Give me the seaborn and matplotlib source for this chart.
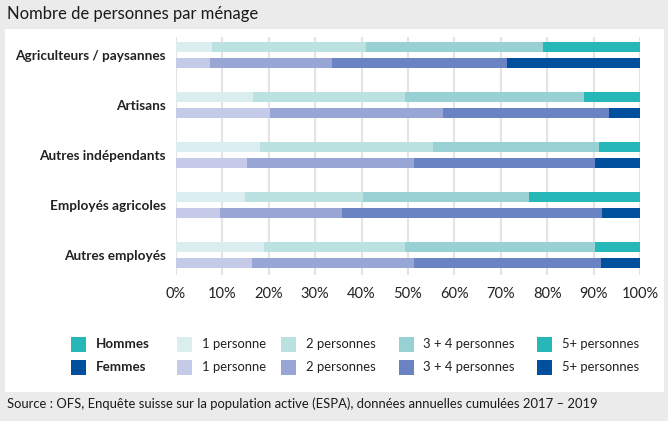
import pandas as pd
import matplotlib.pyplot as plt
import seaborn as sns
from matplotlib.patches import Rectangle

# Data (share of each household size, %)
categories = ['Agriculteurs / paysannes', 'Artisans', 'Autres indépendants',
              'Employés agricoles', 'Autres employés']
sizes = ['1 personne', '2 personnes', '3 + 4 personnes', '5+ personnes']

hommes_1 = [7.7, 16.5, 18.0, 14.9, 19.0]
hommes_2 = [33.3, 32.9, 37.4, 25.3, 30.4]
hommes_34 = [38.2, 38.6, 35.8, 35.9, 41.0]
hommes_5 = [20.8, 12.0, 8.8, 23.9, 9.6]

femmes_1 = [7.3, 20.2, 15.4, 9.5, 16.4]
femmes_2 = [26.3, 37.3, 35.9, 26.3, 34.9]
femmes_34 = [37.8, 35.9, 39.1, 56.1, 40.3]
femmes_5 = [28.6, 6.6, 9.6, 8.1, 8.4]

hommes_colors = ['#daeeef', '#bce1e1', '#97d1d4', '#26b7b9']
femmes_colors = ['#c6cae9', '#98a6d6', '#6a84c3', '#00509d']

sexes = ['Hommes', 'Femmes']

# Build long table with cumulative values for stacking
rows = []
for sex, segs in [('Hommes', [hommes_1, hommes_2, hommes_34, hommes_5]),
                  ('Femmes', [femmes_1, femmes_2, femmes_34, femmes_5])]:
    for i, cat in enumerate(categories):
        cum = 0
        for j, size in enumerate(sizes):
            cum += segs[j][i]
            rows.append({'cat': cat, 'sex': sex, 'size': size, 'cum': cum})
df = pd.DataFrame(rows)

sns.set_theme(style='white')
plt.rcParams['font.family'] = ['Lato', 'DejaVu Sans']

W, H = 668, 421
fig = plt.figure(figsize=(W / 100, H / 100), dpi=100)
fig.patch.set_facecolor('#ebebeb')


def fx(x):
    return x / W


def fy(y):
    return 1 - y / H


# White panel behind the chart
fig.patches.append(Rectangle((fx(5), fy(392)), fx(659), 363 / H,
                             transform=fig.transFigure, facecolor='white',
                             edgecolor='none', zorder=-5))

ax = fig.add_axes([fx(176), fy(275), fx(464), 238 / H])
ax.set_facecolor('none')

# Draw stacks from the largest cumulative value down so each layer shows
for j in reversed(range(len(sizes))):
    sub = df[df['size'] == sizes[j]]
    sns.barplot(data=sub, y='cat', x='cum', hue='sex', hue_order=sexes,
                order=categories, orient='h',
                palette=[hommes_colors[j], femmes_colors[j]],
                saturation=1, width=0.66, gap=0.39, dodge=True,
                legend=False, linewidth=0, ax=ax, zorder=3)

ax.set_xlim(0, 100)
ax.set_ylim(4.40, -0.36)
ax.set_xticks(range(0, 101, 10))
ax.set_xticklabels([f'{v}%' for v in range(0, 101, 10)], fontsize=10.5,
                   color='#222222')
ax.set_yticklabels(categories, fontsize=9.8, fontweight='bold',
                   color='#222222')
ax.tick_params(axis='both', length=0)
ax.tick_params(axis='y', pad=7.5)
ax.tick_params(axis='x', pad=9)
ax.grid(axis='x', color='#e3e3e3', linewidth=1.5, zorder=0)
ax.set_axisbelow(True)
ax.set_xlabel('')
ax.set_ylabel('')
for s in ax.spines.values():
    s.set_visible(False)

# Title
fig.text(fx(7), fy(14), 'Nombre de personnes par ménage', fontsize=12,
         va='center', ha='left', color='#1a1a1a')

# Legend
sq = 15
row_y = [337, 359.5]
sq_x = [70.7, 176.7, 281, 399, 537]
txt_x = [96, 201.7, 305.7, 423.3, 561.7]
for r, (sex, cols) in enumerate([('Hommes', hommes_colors),
                                 ('Femmes', femmes_colors)]):
    y0 = row_y[r]
    fig.patches.append(Rectangle((fx(sq_x[0]), fy(y0 + sq)), fx(sq), sq / H,
                                 transform=fig.transFigure,
                                 facecolor=cols[3], edgecolor='none'))
    fig.text(fx(txt_x[0]), fy(y0 + sq / 2), sex, fontsize=9.6,
             fontweight='bold', va='center', ha='left', color='#222222')
    for k in range(4):
        fig.patches.append(Rectangle((fx(sq_x[k + 1]), fy(y0 + sq)), fx(sq),
                                     sq / H, transform=fig.transFigure,
                                     facecolor=cols[k], edgecolor='none'))
        fig.text(fx(txt_x[k + 1]), fy(y0 + sq / 2), sizes[k], fontsize=9.4,
                 va='center', ha='left', color='#222222')

# Source
fig.text(fx(7), fy(404), 'Source : OFS, Enquête suisse sur la population active '
         '(ESPA), données annuelles cumulées 2017 – 2019', fontsize=9.4,
         va='center', ha='left', color='#1a1a1a')

fig.savefig('out.png', dpi=100, facecolor=fig.get_facecolor())
